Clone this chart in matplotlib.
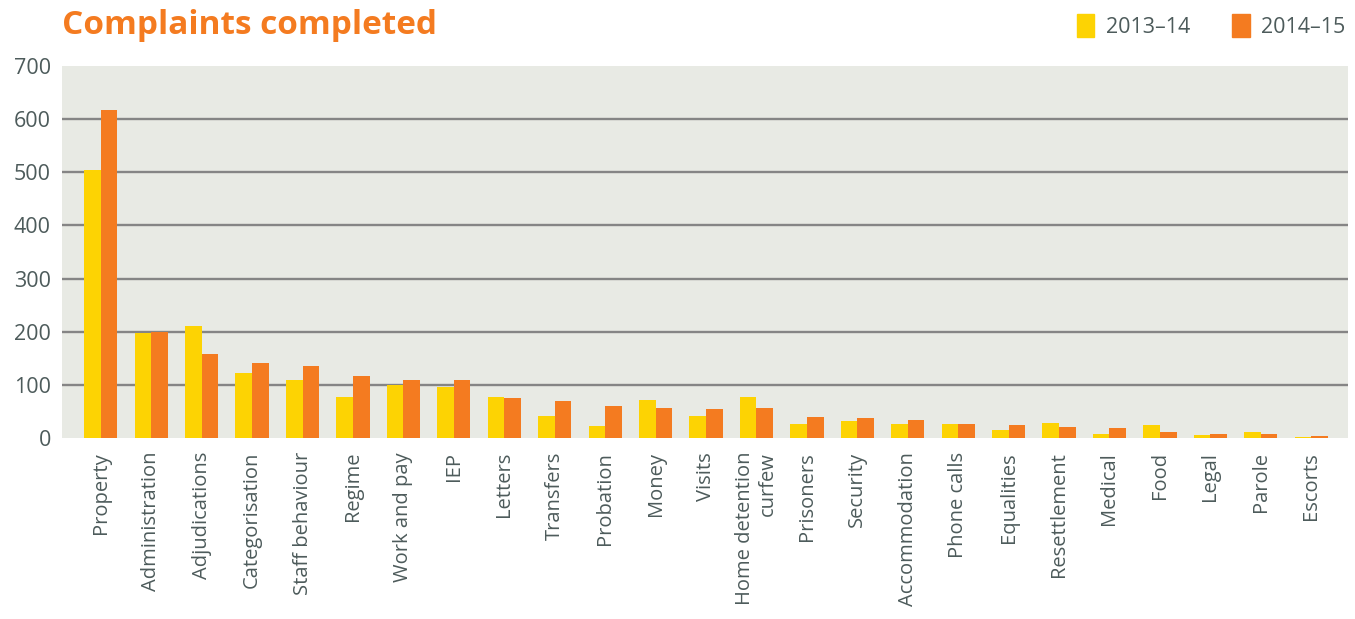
import numpy as np
import matplotlib
matplotlib.use('Agg')
import matplotlib.pyplot as plt
from matplotlib.patches import Patch

categories = ['Property', 'Administration', 'Adjudications', 'Categorisation',
              'Staff behaviour', 'Regime', 'Work and pay', 'IEP', 'Letters',
              'Transfers', 'Probation', 'Money', 'Visits', 'Home detention\ncurfew',
              'Prisoners', 'Security', 'Accommodation', 'Phone calls', 'Equalities',
              'Resettlement', 'Medical', 'Food', 'Legal', 'Parole', 'Escorts']
y2013 = [504, 197, 210, 123, 110, 78, 100, 96, 78, 42, 23, 72, 42, 78,
         26, 32, 26, 26, 15, 28, 7, 24, 6, 11, 2]
y2014 = [617, 199, 159, 142, 136, 117, 110, 109, 76, 70, 61, 57, 55, 56,
         39, 37, 34, 26, 24, 20, 19, 11, 7, 7, 3]
series = ['2013\u201314', '2014\u201315']

YELLOW = '#FDD303'
ORANGE = '#F47B20'
TXT = '#4d5b5b'

plt.rcParams['font.family'] = ['Open Sans', 'DejaVu Sans']

fig = plt.figure(figsize=(13.55, 6.19), dpi=100)
ax = fig.add_axes([62/1355, (619-438)/619, (1348-62)/1355, (438-66)/619])
ax.set_facecolor('#E8EAE4')

x = np.arange(len(categories))
w = 0.33
ax.bar(x - w/2, y2013, w, color=YELLOW, zorder=3, linewidth=0)
ax.bar(x + w/2, y2014, w, color=ORANGE, zorder=3, linewidth=0)

ax.set_xlim(-0.77, len(categories) - 0.27)
ax.set_ylim(0, 700)
ax.set_yticks(np.arange(0, 701, 100))
for v in range(100, 700, 100):
    ax.axhline(v, color='#858585', lw=1.7, zorder=1)

ax.set_xticks(x)
ax.set_xticklabels(categories, rotation=90, fontsize=14.5, color=TXT,
                   multialignment='right')
for lab in ax.get_yticklabels():
    lab.set_fontsize(15.5)
    lab.set_color(TXT)
ax.tick_params(length=0, pad=8)
ax.tick_params(axis='x', pad=10)
for s in ax.spines.values():
    s.set_visible(False)

fig.text(62/1355, 1 - 25/619, 'Complaints completed', color=ORANGE,
         fontsize=24, fontweight='bold', va='center', ha='left')

handles = [Patch(color=YELLOW), Patch(color=ORANGE)]
fig.legend(handles, series, loc='center right', bbox_to_anchor=(1365/1355, 1 - 26/619),
           ncol=2, frameon=False, fontsize=15.5, labelcolor=TXT,
           handlelength=0.8, handleheight=1.3, handletextpad=0.55, columnspacing=1.95)

fig.savefig('out.png', dpi=100)
